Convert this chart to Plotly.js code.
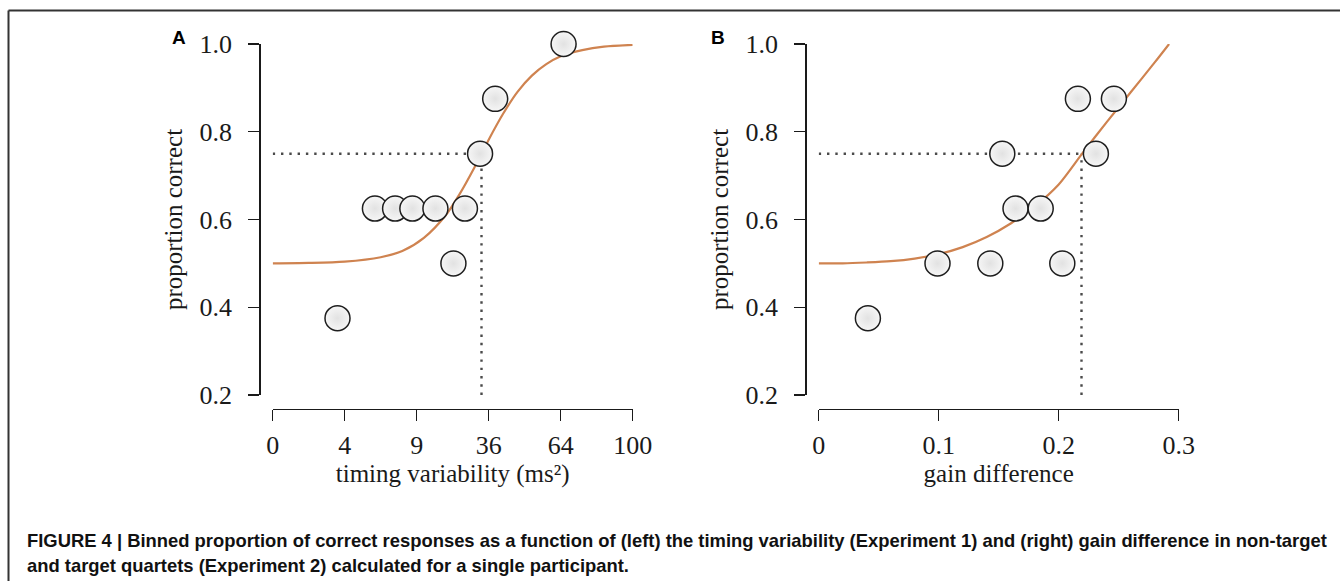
<!DOCTYPE html>
<html>
<head>
<meta charset="utf-8">
<script src="https://cdn.plot.ly/plotly-3.0.1.min.js"></script>
<style>html,body{margin:0;padding:0;background:#fff;}#chart{width:1340px;height:581px;}</style>
</head>
<body>
<div id="chart"></div>
<script>
// ---- Panel A: timing variability (axis positions 0..5 labelled 0,4,9,36,64,100)
const tickPosA = [0, 1, 2, 3, 4, 5];
const tickTextA = ['0', '4', '9', '36', '64', '100'];
const pointsAx = [0.90, 1.42, 1.70, 1.94, 2.26, 2.51, 2.67, 2.88, 3.09, 4.04];
const pointsAy = [0.375, 0.625, 0.625, 0.625, 0.625, 0.5, 0.625, 0.75, 0.875, 1.0];
const curveAx = [0, 0.5, 1.0, 1.5, 1.8, 2.1, 2.4, 2.6, 2.8, 2.9, 3.0, 3.2, 3.4, 3.6, 3.8, 4.0, 4.3, 4.6, 5.0];
const curveAy = [0.500, 0.501, 0.504, 0.514, 0.528, 0.558, 0.609, 0.659, 0.718, 0.750, 0.782, 0.841, 0.891, 0.928, 0.954, 0.972, 0.986, 0.994, 0.998];
const thresholdA = 2.90;

// ---- Panel B: gain difference
const tickPosB = [0, 0.1, 0.2, 0.3];
const tickTextB = ['0', '0.1', '0.2', '0.3'];
const pointsBx = [0.041, 0.099, 0.143, 0.203, 0.164, 0.185, 0.153, 0.231, 0.216, 0.246];
const pointsBy = [0.375, 0.5, 0.5, 0.5, 0.625, 0.625, 0.75, 0.75, 0.875, 0.875];
const curveBx = [0, 0.02, 0.04, 0.06, 0.08, 0.10, 0.12, 0.14, 0.16, 0.18, 0.20, 0.22, 0.24, 0.26, 0.28, 0.292];
const curveBy = [0.500, 0.500, 0.502, 0.505, 0.511, 0.521, 0.537, 0.560, 0.591, 0.630, 0.680, 0.752, 0.822, 0.890, 0.958, 1.000];
const thresholdB = 0.219;

const criterion = 0.75;
const yFloor = 0.2;
const yTicks = [0.2, 0.4, 0.6, 0.8, 1.0];
const yTickText = ['0.2', '0.4', '0.6', '0.8', '1.0'];

const W = 1340, H = 581;
const px = v => v / W;
const py = v => 1 - v / H;

const curveColor = '#cf8350';
const ink = '#1a1a1a';
const serif = 'Liberation Serif, Times New Roman, serif';
const sans = 'Liberation Sans, Arial, sans-serif';

function markers(x, y, xa, ya) {
  return {x, y, xaxis: xa, yaxis: ya, type: 'scatter', mode: 'markers', cliponaxis: false,
    marker: {size: 25, color: '#f6f6f6', gradient: {type: 'radial', color: '#e2e2e2'},
      line: {color: '#1e1e1e', width: 1.5}}, hoverinfo: 'skip'};
}
function curve(x, y, xa, ya) {
  return {x, y, xaxis: xa, yaxis: ya, type: 'scatter', mode: 'lines', cliponaxis: false,
    line: {color: curveColor, width: 2.2, shape: 'spline', smoothing: 0.8}, hoverinfo: 'skip'};
}
function dotted(x, y, xa, ya) {
  return {x, y, xaxis: xa, yaxis: ya, type: 'scatter', mode: 'lines', cliponaxis: false,
    line: {color: '#4a4a4a', width: 2.4, dash: '2.4px,5.9px'}, hoverinfo: 'skip'};
}

const traces = [
  dotted([0, thresholdA], [criterion, criterion], 'x', 'y'),
  dotted([thresholdA, thresholdA], [yFloor, criterion], 'x', 'y'),
  curve(curveAx, curveAy, 'x', 'y'),
  markers(pointsAx, pointsAy, 'x', 'y'),
  dotted([0, thresholdB], [criterion, criterion], 'x2', 'y2'),
  dotted([thresholdB, thresholdB], [yFloor, criterion], 'x2', 'y2'),
  curve(curveBx, curveBy, 'x2', 'y2'),
  markers(pointsBx, pointsBy, 'x2', 'y2')
];

const tickFont = {family: serif, size: 26, color: ink};
const titleFont = {family: serif, size: 25, color: ink};

function xAxis(domain, range, tv, tt, title) {
  return {domain, range, anchor: 'free', position: py(409), showgrid: false, zeroline: false,
    showline: true, linecolor: ink, linewidth: 1.4, ticks: 'outside', ticklen: 11, tickwidth: 1.4,
    tickcolor: ink, tickvals: tv, ticktext: tt, tickfont: tickFont, ticklabelstandoff: 1,
    title: {text: title, font: titleFont, standoff: 2}, fixedrange: true};
}
function yAxis(domain, pos) {
  return {domain, range: [0.2, 1.0], anchor: 'free', position: pos, showgrid: false, zeroline: false,
    showline: true, linecolor: ink, linewidth: 1.4, ticks: 'outside', ticklen: 11, tickwidth: 1.4,
    tickcolor: ink, tickvals: yTicks, ticktext: yTickText, tickfont: tickFont, ticklabelstandoff: 11,
    title: {text: 'proportion correct', font: titleFont, standoff: 8}, fixedrange: true};
}

const layout = {
  width: W, height: H, margin: {l: 0, r: 0, t: 0, b: 0},
  paper_bgcolor: '#fff', plot_bgcolor: 'rgba(0,0,0,0)', showlegend: false,
  xaxis: xAxis([px(272.7), px(632.7)], [0, 5], tickPosA, tickTextA, 'timing variability (ms²)'),
  yaxis: yAxis([py(395), py(44)], px(259.3)),
  xaxis2: xAxis([px(818.7), px(1178.7)], [0, 0.3], tickPosB, tickTextB, 'gain difference'),
  yaxis2: yAxis([py(395), py(44)], px(805.3)),
  shapes: [
    {type: 'line', xref: 'paper', yref: 'paper', x0: px(8.5), x1: 1, y0: py(10.5), y1: py(10.5), line: {color: '#333', width: 2}},
    {type: 'line', xref: 'paper', yref: 'paper', x0: px(8.5), x1: px(8.5), y0: py(10.5), y1: 0, line: {color: '#333', width: 2}}
  ],
  annotations: [
    {text: '<b>A</b>', xref: 'paper', yref: 'paper', x: px(170), y: py(37), xanchor: 'left', yanchor: 'middle', showarrow: false,
      font: {family: sans, size: 19, color: '#000'}},
    {text: '<b>B</b>', xref: 'paper', yref: 'paper', x: px(709), y: py(37), xanchor: 'left', yanchor: 'middle', showarrow: false,
      font: {family: sans, size: 19, color: '#000'}},
    {text: '<b>FIGURE 4 | Binned proportion of correct responses as a function of (left) the timing variability (Experiment 1) and (right) gain difference in non-target</b>',
      xref: 'paper', yref: 'paper', x: px(25), y: py(540), xanchor: 'left', yanchor: 'middle', showarrow: false,
      font: {family: sans, size: 18.4, color: '#111'}},
    {text: '<b>and target quartets (Experiment 2) calculated for a single participant.</b>',
      xref: 'paper', yref: 'paper', x: px(25), y: py(565), xanchor: 'left', yanchor: 'middle', showarrow: false,
      font: {family: sans, size: 18.4, color: '#111'}}
  ]
};

Plotly.newPlot('chart', traces, layout, {displayModeBar: false, staticPlot: true});
</script>
</body>
</html>
